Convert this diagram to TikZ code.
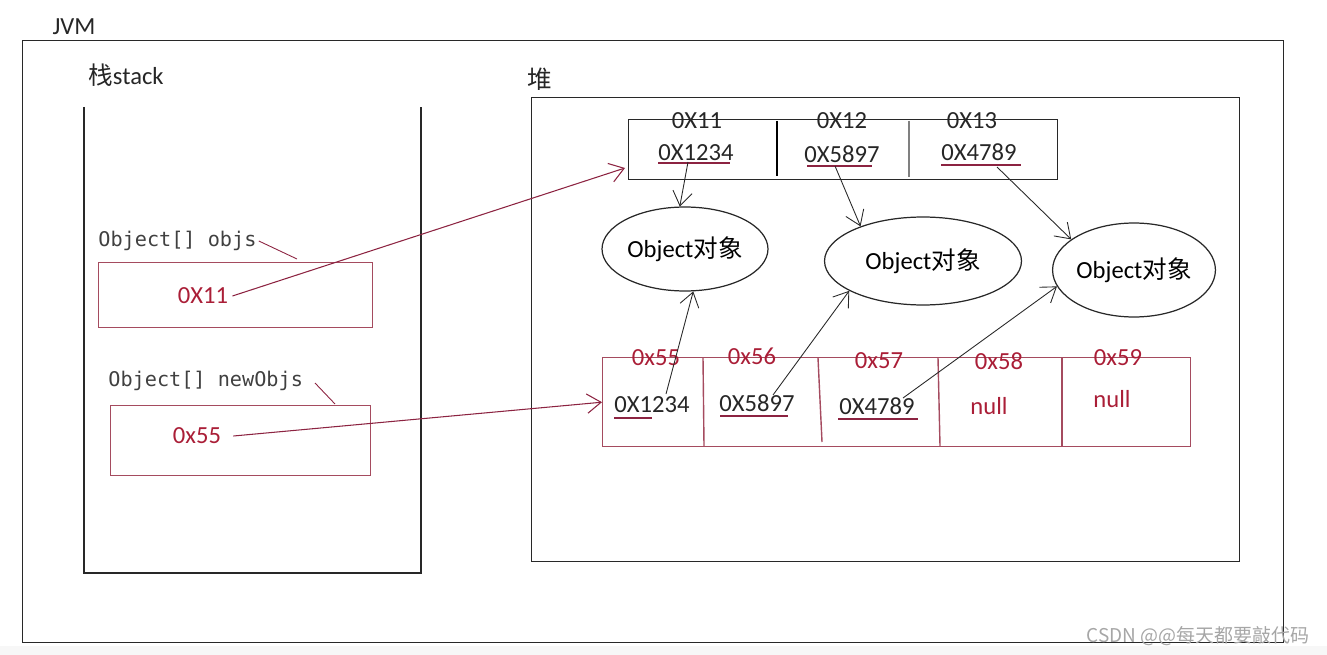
\documentclass[tikz,border=0pt]{standalone}
\usepackage{fontspec}
\setmainfont{Carlito}
\newfontfamily\cjk{Noto Sans CJK SC}
\newfontfamily\monof{DejaVu Sans Mono}
\usetikzlibrary{shapes.geometric,arrows.meta}
\definecolor{boxred}{RGB}{165,75,95}
\definecolor{txtred}{RGB}{170,30,55}
\definecolor{arrred}{RGB}{140,35,65}
\definecolor{lin}{RGB}{40,40,40}
\tikzset{
  t/.style={font=\fontsize{14}{16}\selectfont, inner sep=0pt, text=black!85},
  rt/.style={t, text=txtred},
  mono/.style={font=\monof\fontsize{11.5}{13}\selectfont, text=black!75, inner sep=0pt},
  arr/.style={-{Straight Barb[length=8pt,width=11pt]}, lin, line width=0.5pt},
  rarr/.style={arr, arrred, line width=0.6pt},
  objnode/.style={ellipse, draw=lin, line width=0.7pt, inner sep=0pt, font=\fontsize{14}{16}\selectfont},
  frame/.style={draw=lin, line width=0.7pt, inner sep=0pt, anchor=north west},
  rframe/.style={draw=boxred, line width=0.8pt, inner sep=0pt, anchor=north west},
  uline/.style={draw=arrred, line width=0.6pt},
}
\begin{document}
\begin{tikzpicture}[x=0.02cm,y=-0.02cm]
\path[use as bounding box] (0,0) rectangle (1327,655);
\fill[gray!6] (0,646) rectangle (1327,655);
% JVM
\node[t] (jvm) at (74,27) {JVM};
\node[frame, minimum width=25.22cm, minimum height=12.04cm] (jvmbox) at (22,40) {};
% stack
\node[t] (stacklbl) at (126,75) {{\cjk 栈}stack};
\draw[lin, line width=0.7pt] (84,107) -- (84,573) -- (421,573) -- (421,107);
\node[mono, anchor=west] (objslbl) at (98,241) {Object[] objs};
\node[rframe, minimum width=5.48cm, minimum height=1.3cm] (objsbox) at (98,262) {};
\node[rt] (v11) at (203,296) {0X11};
\draw[arrred, line width=0.5pt] (objslbl.east) ++(2,0) coordinate (oe) -- (297,259) coordinate (ot);
\node[mono, anchor=west] (newlbl) at (108,381) {Object[] newObjs};
\node[rframe, minimum width=5.2cm, minimum height=1.4cm] (newbox) at (110,405) {};
\node[rt] (v55) at (197,436) {0x55};
\draw[arrred, line width=0.5pt] (315,383) coordinate (ne) -- (335,404) coordinate (nt);
% heap
\node[t] (heaplbl) at (540,79) {\cjk 堆};
\node[frame, minimum width=14.16cm, minimum height=9.28cm] (heapbox) at (531,97) {};
% top array
\node[frame, minimum width=8.58cm, minimum height=1.2cm] (tarr) at (628,119) {};
\draw[black, line width=1.3pt] (777,121) -- (777,176);
\draw[gray, line width=1.3pt] (909,121) -- (909,177);
\node[t] (h11) at (697,121) {0X11};
\node[t] (h12) at (842,121) {0X12};
\node[t] (h13) at (972,121) {0X13};
\node[t] (t1) at (696,153) {0X1234};
\node[t] (t2) at (842,154) {0X5897};
\node[t] (t3) at (979,152) {0X4789};
\draw[uline] (658,163) -- (730,163);
\draw[uline] (807,166) -- (872,166);
\draw[uline] (941,165) -- (1021,165);
% ellipses
\node[objnode, minimum width=3.32cm, minimum height=1.68cm] (e1) at (685,249) {Object{\cjk 对象}};
\node[objnode, minimum width=3.94cm, minimum height=1.76cm] (e2) at (923,261) {Object{\cjk 对象}};
\node[objnode, minimum width=3.12cm, minimum height=1.88cm] (e3) at (1134,270) {Object{\cjk 对象}};
\draw[arr] (688,162) coordinate (s1) -- (e1.97);
\draw[arr] (835,166) coordinate (s2) -- (e2.151);
\draw[arr] (997,167) coordinate (s3) -- (e3.154);
% bottom array
\node[rframe, minimum width=11.76cm, minimum height=1.78cm] (barr) at (602,357) {};
\draw[boxred, line width=0.8pt] (703,358) -- (704,446);
\draw[boxred, line width=0.8pt] (818,358) -- (822,442);
\draw[boxred, line width=0.8pt] (938,358) -- (940,446);
\draw[boxred, line width=0.8pt] (1062,358) -- (1062,446);
\node[rt] (b55) at (656,358) {0x55};
\node[rt] (b56) at (752,356) {0x56};
\node[rt] (b57) at (879,361) {0x57};
\node[rt] (b58) at (999,361) {0x58};
\node[rt] (b59) at (1118,358) {0x59};
\node[t] (c1) at (652,405) {0X1234};
\node[t] (c2) at (757,403) {0X5897};
\node[t] (c3) at (877,406) {0X4789};
\node[rt] (c4) at (989,406) {null};
\node[rt] (c5) at (1112,399) {null};
\draw[uline] (614,418) -- (652,418);
\draw[uline] (720,416) -- (788,416);
\draw[uline] (838,419) -- (918,419);
\draw[arr] (666,394) coordinate (u1) -- (e1.-79);
\draw[arr] (773,395) coordinate (u2) -- (e2.202);
\draw[arr] (903,398) coordinate (u3) -- (e3.192);
% references from stack
\coordinate (a1end) at (625,168);
\draw[rarr] (v11.east) ++(4,0) coordinate (a1s) -- (a1end);
\draw[rarr] (v55.east) ++(12,0) coordinate (a2s) -- (barr.west);
% watermark
\node[font=\cjk\fontsize{10.8}{13}\selectfont, text=gray!70, inner sep=0pt] (wm) at (1198,636) {CSDN @@每天都要敲代码};
\end{tikzpicture}
\end{document}
